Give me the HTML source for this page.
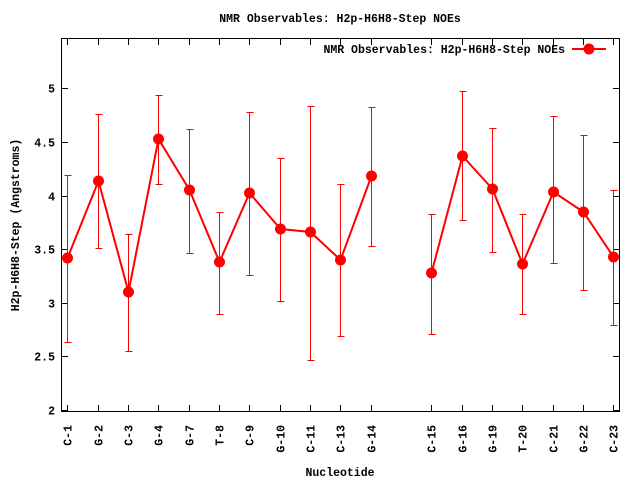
<!DOCTYPE html>
<html><head><meta charset="utf-8"><style>
html,body{margin:0;padding:0;background:#fff}
svg{display:block}
text{font-family:"Liberation Mono",monospace;font-weight:bold;font-size:11.5px;fill:#000}
</style></head><body>
<svg width="640" height="480" xmlns="http://www.w3.org/2000/svg">
<text x="340" y="22" text-anchor="middle">NMR Observables: H2p-H6H8-Step NOEs</text>
<text x="340" y="476" text-anchor="middle">Nucleotide</text>
<text transform="translate(19,225) rotate(-90)" text-anchor="middle">H2p-H6H8-Step (Angstroms)</text>
<g id="ax" stroke="#000" stroke-width="1" fill="none" shape-rendering="crispEdges">
<rect x="61.5" y="38.5" width="558" height="373"/>
</g>
<g id="yt" stroke="#000" shape-rendering="crispEdges"></g>
<g id="xt" stroke="#000" shape-rendering="crispEdges"></g>
<g id="yl"></g>
<g id="xl"></g>
<g id="err" stroke="#ff0000" stroke-width="1" shape-rendering="crispEdges"></g>
<g id="data"></g>
<text x="565" y="53" text-anchor="end">NMR Observables: H2p-H6H8-Step NOEs</text>
<line x1="572" y1="49" x2="606" y2="49" stroke="#f00" stroke-width="2"/>
<circle cx="589" cy="49" r="5.5" fill="#f00"/>
<script>
var ns="http://www.w3.org/2000/svg";
function el(p,t,a,txt){var e=document.createElementNS(ns,t);for(var k in a)e.setAttribute(k,a[k]);if(txt)e.textContent=txt;document.getElementById(p).appendChild(e);return e;}
for(var i=0;i<=6;i++){var v=2+i*0.5;var y=Math.round(410-107.2*(v-2))+0.5;
el('yt','line',{x1:62,y1:y,x2:68,y2:y});el('yt','line',{x1:613,y1:y,x2:619,y2:y});
el('yl','text',{x:55,y:y+4,'text-anchor':'end'},String(v));}
var labs=["C-1","G-2","C-3","G-4","G-7","T-8","C-9","G-10","C-11","C-13","G-14",null,"C-15","G-16","G-19","T-20","C-21","G-22","C-23"];
var d=[[258,175,342],[181,114,248],[292,234,351],[139,95,184],[190,129,253],[262,212,314],[193,112,275],[229,158,301],[232,106,360],[260,184,336],[176,107,246],null,[273,214,334],[156,91,220],[189,128,252],[264,214,314],[192,116,263],[212,135,290],[257,190,325]];
var pts=[[],[]];
for(var i=0;i<19;i++){var x=Math.round(67.3+30.33*i)+0.5;
if(!labs[i])continue;
el('xt','line',{x1:x,y1:411,x2:x,y2:405});el('xt','line',{x1:x,y1:39,x2:x,y2:45});
el('xl','text',{transform:'translate('+(x+4)+',425) rotate(-90)','text-anchor':'end'},labs[i]);
var q=d[i];
el('err','line',{x1:x,y1:q[1],x2:x,y2:q[2]});
el('err','line',{x1:x-3,y1:q[1]+.5,x2:x+4,y2:q[1]+.5});
el('err','line',{x1:x-3,y1:q[2]+.5,x2:x+4,y2:q[2]+.5});
pts[i<11?0:1].push(x+','+q[0]);}
for(var k=0;k<2;k++)el('data','polyline',{points:pts[k].join(' '),fill:'none',stroke:'#f00','stroke-width':2});
for(var i=0;i<19;i++){if(!d[i])continue;var x=Math.round(67.3+30.33*i)+0.5;el('data','circle',{cx:x,cy:d[i][0],r:5.5,fill:'#f00'});}
</script>
</svg>
</body></html>
